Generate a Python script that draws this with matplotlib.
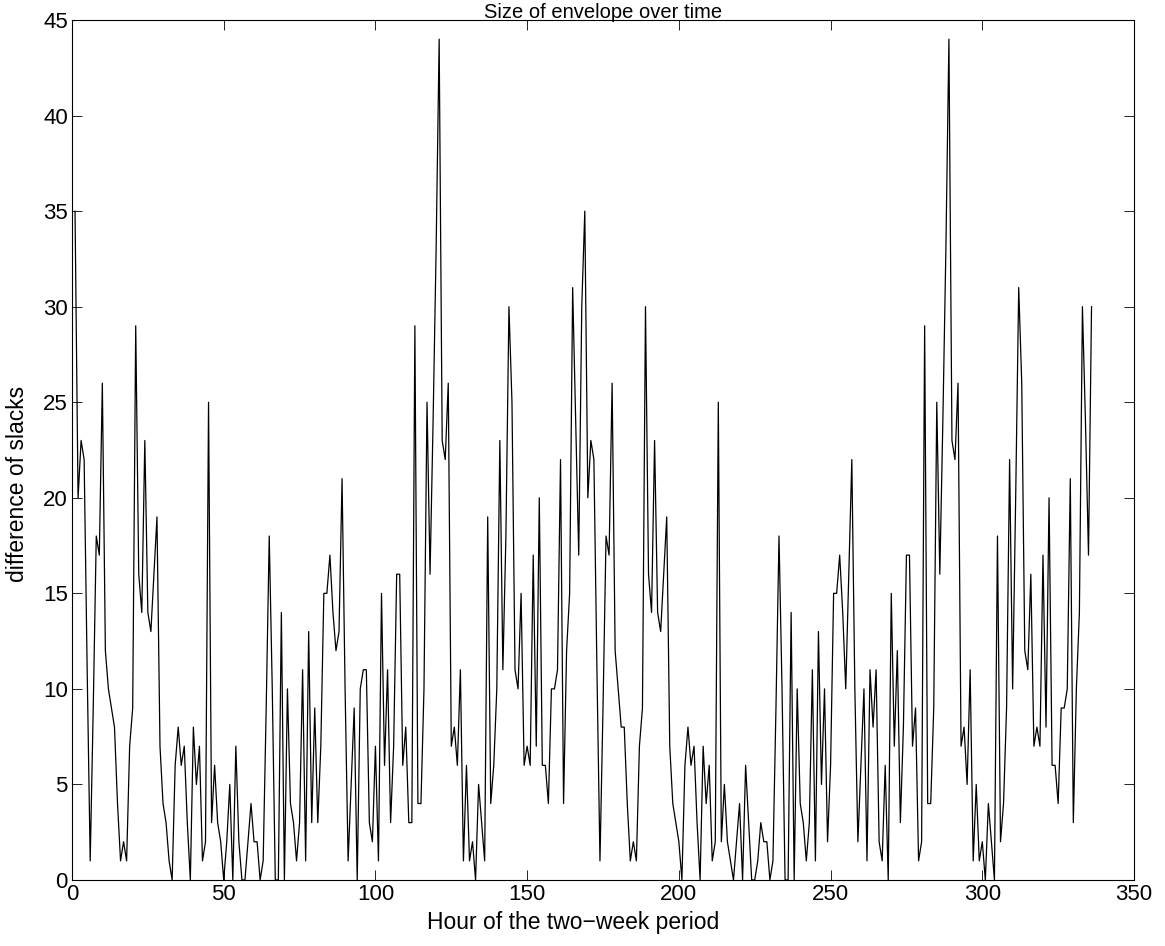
import matplotlib
matplotlib.use("Agg")
import matplotlib.pyplot as plt
import numpy as np

plt.rcParams['font.family'] = ['Liberation Sans', 'DejaVu Sans']

# hours 1..168 (first week)
week1 = [35, 20, 23, 22, 11, 1, 9, 18, 17, 26,
         12, 10, 9, 8, 4, 1, 2, 1, 7, 9,
         29, 16, 14, 23, 14, 13, 16, 19, 7, 4,
         3, 1, 0, 6, 8, 6, 7, 3, 0, 8,
         5, 7, 1, 2, 25, 3, 6, 3, 2, 0,
         2, 5, 0, 7, 2, 0, 0, 2, 4, 2,
         2, 0, 1, 9, 18, 10, 0, 0, 14, 0,
         10, 4, 3, 1, 3, 11, 1, 13, 3, 9,
         3, 7, 15, 15, 17, 14, 12, 13, 21, 10,
         1, 5, 9, 0, 10, 11, 11, 3, 2, 7,
         1, 15, 6, 11, 3, 7, 16, 16, 6, 8,
         3, 3, 29, 4, 4, 10, 25, 16, 24, 33,
         44, 23, 22, 26, 7, 8, 6, 11, 1, 6,
         1, 2, 0, 5, 3, 1, 19, 4, 6, 10,
         23, 11, 18, 30, 25, 11, 10, 15, 6, 7,
         6, 17, 7, 20, 6, 6, 4, 10, 10, 11,
         22, 4, 12, 15, 31, 24, 17, 30]

# hours 169..336 (second week)
week2 = [35, 20, 23, 22, 11, 1, 9, 18, 17, 26,
         12, 10, 8, 8, 4, 1, 2, 1, 7, 9,
         30, 16, 14, 23, 14, 13, 16, 19, 7, 4,
         3, 2, 0, 6, 8, 6, 7, 3, 0, 7,
         4, 6, 1, 2, 25, 2, 5, 2, 1, 0,
         2, 4, 0, 6, 3, 0, 0, 1, 3, 2,
         2, 0, 1, 9, 18, 10, 0, 0, 14, 0,
         10, 4, 3, 1, 3, 11, 1, 13, 5, 10,
         2, 6, 15, 15, 17, 14, 10, 16, 22, 10,
         2, 6, 10, 1, 11, 8, 11, 2, 1, 6,
         0, 15, 7, 12, 3, 8, 17, 17, 7, 9,
         1, 2, 29, 4, 4, 9, 25, 16, 24, 33,
         44, 23, 22, 26, 7, 8, 5, 11, 1, 5,
         1, 2, 0, 4, 2, 0, 18, 2, 4, 9,
         22, 10, 20, 31, 26, 12, 11, 16, 7, 8,
         7, 17, 8, 20, 6, 6, 4, 9, 9, 10,
         21, 3, 10, 14, 30, 24, 17, 30]

slack_diff = week1 + week2
hours = np.arange(1, len(slack_diff) + 1)

fig = plt.figure(figsize=(11.65, 9.46), dpi=100)
ax = fig.add_axes([0.0618, 0.0698, 0.9116, 0.909])

ax.plot(hours, slack_diff, color='black', linewidth=0.9)

ax.set_xlim(0, 350)
ax.set_ylim(0, 45)
ax.set_xticks(np.arange(0, 351, 50))
ax.set_yticks(np.arange(0, 46, 5))
ax.tick_params(direction='in', top=True, right=True, labelsize=16, length=7, width=0.6, pad=3)
for s in ax.spines.values():
    s.set_linewidth(0.8)

fig.text(603 / 1165, 1 - 13 / 946, 'Size of envelope over time', fontsize=14.5, ha='center', va='center')
ax.set_xlabel('Hour of the two\u2212week period', fontsize=16.5)
ax.set_ylabel('difference of slacks', fontsize=16.5)
ax.xaxis.set_label_coords(0.472, -0.036)
ax.yaxis.set_label_coords(-0.0405, 0.46)

fig.savefig('out.png', dpi=100)
